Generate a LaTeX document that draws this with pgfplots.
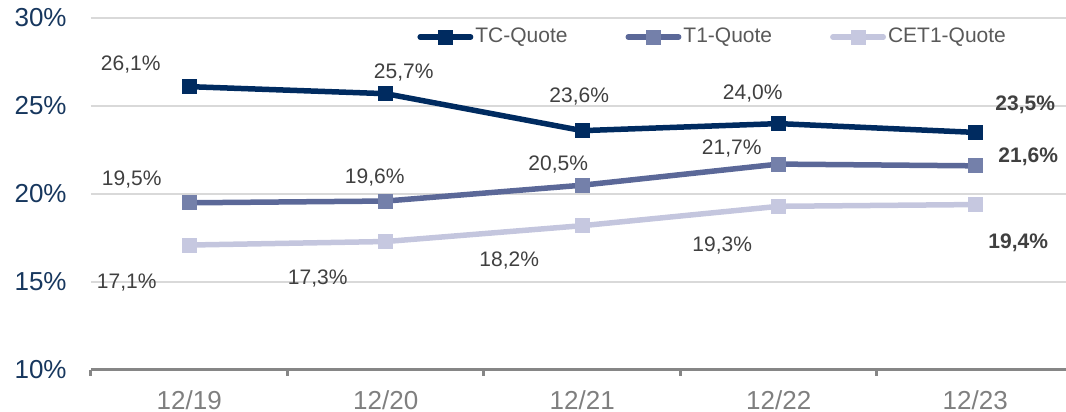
\documentclass[border=0pt]{standalone}
\usepackage{fontspec}
\setmainfont{Liberation Sans}
\usepackage{pgfplots}
\pgfplotsset{compat=1.18}
\usepackage{pgfplotstable}

\definecolor{tcc}{HTML}{002B60}
\definecolor{tonec}{HTML}{5B6898}
\definecolor{tonem}{HTML}{7480AA}
\definecolor{cetc}{HTML}{C4C6DE}
\definecolor{cetm}{HTML}{C6C8E0}
\definecolor{ylab}{HTML}{17375E}
\definecolor{xlab}{HTML}{7F7F7F}
\definecolor{txt}{HTML}{404040}
\definecolor{legtxt}{HTML}{595959}
\definecolor{grd}{HTML}{D9D9D9}
\definecolor{axl}{HTML}{868686}

% x = category index, y = value, dx/dy = label offset (pt), b = bold flag
\pgfplotstableread{
x y dx dy b
0 26.1 -29.25 11 0
1 25.7 9 10.5 0
2 23.6 -1.5 17.25 0
3 24.0 -13 15 0
4 23.5 25 14 1
}\tctab
\pgfplotstableread{
x y dx dy b
0 19.5 -28.75 11.65 0
1 19.6 -5.5 12 0
2 20.5 -12 10.25 0
3 21.7 -23.5 8 0
4 21.6 26.5 4.75 1
}\tonetab
\pgfplotstableread{
x y dx dy b
0 17.1 -31.25 -19 0
1 17.3 -34 -18.5 0
2 18.2 -36.5 -17.25 0
3 19.3 -28.25 -19.6 0
4 19.4 21.5 -19.25 1
}\cettab

\pgfplotsset{
  lab/.style={
    draw=none, mark=none, forget plot,
    nodes near coords={\ifdim\bld pt>0.5pt\bfseries\fi\pgfmathprintnumber[fixed,fixed zerofill,precision=1,use comma,assume math mode=true]{\pgfplotspointmeta}\%},
    point meta=y,
    visualization depends on={\thisrow{dx}\as\ddx},
    visualization depends on={\thisrow{dy}\as\ddy},
    visualization depends on={\thisrow{b}\as\bld},
    every node near coord/.append style={anchor=center, inner sep=0pt, draw=none,
      xshift=\ddx pt, yshift=\ddy pt, font=\fontsize{10.5}{12}\selectfont, text=txt},
  },
}

\begin{document}
\begin{tikzpicture}
\begin{axis}[
  at={(0pt,0pt)}, anchor=south west,
  scale only axis, width=487.5pt, height=176pt,
  xmin=-0.5, xmax=4.462, ymin=10, ymax=30,
  clip=false,
  axis x line*=bottom, axis y line*=left,
  x axis line style={draw=axl, line width=1.5pt},
  y axis line style={draw=none},
  xtick={0,1,2,3,4}, xticklabels={12/19,12/20,12/21,12/22,12/23},
  minor xtick={-0.5,0.5,1.5,2.5,3.5},
  ytick={10,15,20,25,30}, yticklabels={10\%,15\%,20\%,25\%,30\%},
  tick align=outside, major tick length=0pt, minor tick length=3pt,
  major tick style={draw=none},
  minor tick style={draw=axl, line width=1.5pt},
  ymajorgrids, grid style={draw=grd, line width=1pt},
  yticklabel style={anchor=east, inner sep=0pt, xshift=-12pt, font=\fontsize{13}{15}\selectfont, text=ylab},
  xticklabel style={anchor=north, inner sep=0pt, yshift=-10pt, font=\fontsize{13}{15}\selectfont, text=xlab},
  legend style={at={(rel axis cs:0.3344,0.946)}, anchor=west, draw=none, fill=none, inner sep=0pt,
    legend columns=3, font=\fontsize{10.5}{12}\selectfont, text=legtxt,
    nodes={inner sep=1pt, anchor=west},
    /tikz/every even column/.append style={column sep=28pt}},
  legend image code/.code={\draw[mark repeat=2,mark phase=2,#1,line cap=round] plot coordinates {(1.4pt,0pt) (14pt,0pt) (26.6pt,0pt)};},
]
\addplot[tcc, line width=2.75pt, mark=square*, mark size=3.5pt,
  mark options={fill=tcc, draw=tcc, line width=0.5pt}] table[x=x,y=y] {\tctab};
\addlegendentry{TC-Quote}
\addplot[tonec, line width=2.75pt, mark=square*, mark size=3.5pt,
  mark options={fill=tonem, draw=tonem, line width=0.5pt}] table[x=x,y=y] {\tonetab};
\addlegendentry{T1-Quote}
\addplot[cetc, line width=2.75pt, mark=square*, mark size=3.5pt,
  mark options={fill=cetm, draw=cetm, line width=0.5pt}] table[x=x,y=y] {\cettab};
\addlegendentry{CET1-Quote}
\addplot[lab] table[x=x,y=y] {\tctab};
\addplot[lab] table[x=x,y=y] {\tonetab};
\addplot[lab] table[x=x,y=y] {\cettab};
\end{axis}
\pgfresetboundingbox
\path[use as bounding box] (-45.5pt,-21pt) rectangle (487.5pt,185pt);
\end{tikzpicture}
\end{document}
